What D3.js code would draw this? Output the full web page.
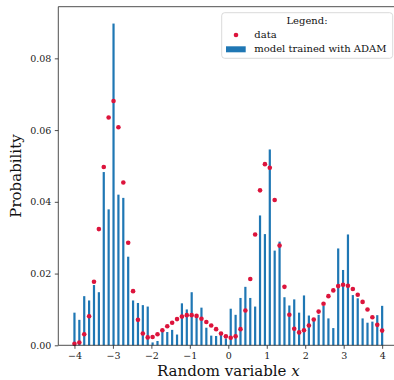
<!DOCTYPE html>
<html>
<head>
<meta charset="utf-8">
<script src="https://d3js.org/d3.v7.min.js"></script>
<style>
  html, body { margin: 0; padding: 0; background: #fff; }
  svg { display: block; font-family: "DejaVu Serif", serif; }
</style>
</head>
<body>
<svg id="chart" width="394" height="380"></svg>
<script>
// Sample grid (64 outcomes from -4 to 4)
const xValues = [
  -4.000, -3.873, -3.746, -3.619, -3.492, -3.365, -3.238, -3.111,
  -2.984, -2.857, -2.730, -2.603, -2.476, -2.349, -2.222, -2.095,
  -1.968, -1.841, -1.714, -1.587, -1.460, -1.333, -1.206, -1.079,
  -0.952, -0.825, -0.698, -0.571, -0.444, -0.317, -0.190, -0.063,
   0.063,  0.190,  0.317,  0.444,  0.571,  0.698,  0.825,  0.952,
   1.079,  1.206,  1.333,  1.460,  1.587,  1.714,  1.841,  1.968,
   2.095,  2.222,  2.349,  2.476,  2.603,  2.730,  2.857,  2.984,
   3.111,  3.238,  3.365,  3.492,  3.619,  3.746,  3.873,  4.000
];
// Target distribution (red dots)
const dataProb = [
  0.0004, 0.0008, 0.0031, 0.0081, 0.0177, 0.0324, 0.0497, 0.0635,
  0.0681, 0.0608, 0.0454, 0.0286, 0.0151, 0.0071, 0.0033, 0.0022,
  0.0023, 0.0031, 0.0042, 0.0053, 0.0063, 0.0073, 0.0080, 0.0084,
  0.0084, 0.0082, 0.0074, 0.0065, 0.0055, 0.0045, 0.0033, 0.0025,
  0.0021, 0.0025, 0.0045, 0.0097, 0.0185, 0.0309, 0.0432, 0.0505,
  0.0495, 0.0405, 0.0278, 0.0163, 0.0085, 0.0046, 0.0036, 0.0042,
  0.0055, 0.0072, 0.0094, 0.0116, 0.0137, 0.0153, 0.0165, 0.0169,
  0.0166, 0.0157, 0.0141, 0.0121, 0.0100, 0.0078, 0.0057, 0.0041
];
// Model distribution (blue bars)
const modelProb = [
  0.0091, 0.0071, 0.0137, 0.0125, 0.0168, 0.0148, 0.0483, 0.0379,
  0.0897, 0.0420, 0.0411, 0.0247, 0.0125, 0.0118, 0.0112, 0.0108,
  0.0008, 0.0012, 0.0042, 0.0037, 0.0043, 0.0030, 0.0117, 0.0100,
  0.0148, 0.0078, 0.0105, 0.0049, 0.0027, 0.0026, 0.0031, 0.0019,
  0.0102, 0.0085, 0.0132, 0.0163, 0.0132, 0.0108, 0.0362, 0.0310,
  0.0546, 0.0264, 0.0289, 0.0134, 0.0111, 0.0128, 0.0091, 0.0139,
  0.0083, 0.0068, 0.0085, 0.0110, 0.0075, 0.0048, 0.0270, 0.0210,
  0.0309, 0.0140, 0.0131, 0.0075, 0.0063, 0.0066, 0.0084, 0.0110
];
const xTicks = [-4, -3, -2, -1, 0, 1, 2, 3, 4];
const yTicks = [0.00, 0.02, 0.04, 0.06, 0.08];
const legendTitle = "Legend:";
const legendLabels = ["data", "model trained with ADAM"];

const svg = d3.select("#chart");
const mLeft = 58.3, mRight = 398.3, mTop = 6.7, mBottom = 345.3;

const x = d3.scaleLinear().domain([-4.42, 4.42]).range([mLeft, mRight]);
const y = d3.scaleLinear().domain([0, 0.0944]).range([mBottom, mTop]);

const blue = "#1f77b4", red = "#dc143c";

// bars
svg.append("g").selectAll("rect").data(modelProb).join("rect")
  .attr("x", (d, i) => x(xValues[i]) - 1.1)
  .attr("width", 2.2)
  .attr("y", d => y(d))
  .attr("height", d => y(0) - y(d))
  .attr("fill", blue);

// dots
svg.append("g").selectAll("circle").data(dataProb).join("circle")
  .attr("cx", (d, i) => x(xValues[i]))
  .attr("cy", d => y(d))
  .attr("r", 2.3)
  .attr("fill", red);

// axes
const xAxis = d3.axisBottom(x).tickValues(xTicks).tickSize(3.5).tickPadding(3.5)
  .tickFormat(d => d < 0 ? "\u2212" + Math.abs(d) : String(d));
const yAxis = d3.axisLeft(y).tickValues(yTicks).tickSize(3.5).tickPadding(3.5)
  .tickFormat(d3.format(".2f"));

const gx = svg.append("g").attr("transform", `translate(0,${mBottom})`).call(xAxis);
const gy = svg.append("g").attr("transform", `translate(${mLeft},0)`).call(yAxis);
[gx, gy].forEach(g => {
  g.select(".domain").remove();
  g.selectAll(".tick line").attr("stroke", "#222").attr("stroke-width", 0.8);
  g.selectAll(".tick text").attr("fill", "#222").style("font-family", "DejaVu Serif")
    .style("font-size", "9.5px");
});

// spines
svg.append("path")
  .attr("d", `M${mRight},${mTop}H${mLeft}V${mBottom}H${mRight}`)
  .attr("fill", "none").attr("stroke", "#222").attr("stroke-width", 0.8);

// axis labels
svg.append("text")
  .attr("transform", `translate(17,${(mTop + mBottom) / 2}) rotate(-90)`)
  .attr("text-anchor", "middle").attr("dominant-baseline", "middle")
  .style("font-size", "15px").attr("fill", "#111")
  .text("Probability");

const xl = svg.append("text")
  .attr("x", x(0)).attr("y", 376)
  .attr("text-anchor", "middle")
  .style("font-size", "15px").attr("fill", "#111");
xl.append("tspan").text("Random variable ");
xl.append("tspan").style("font-style", "italic").text("x");

// legend
const lg = svg.append("g");
lg.append("rect").attr("x", 221.7).attr("y", 12.7).attr("width", 171).attr("height", 45.6)
  .attr("rx", 3).attr("fill", "#fff").attr("fill-opacity", 0.8)
  .attr("stroke", "#d0d0d0").attr("stroke-width", 0.8);
lg.append("text").attr("x", 307).attr("y", 21).attr("text-anchor", "middle")
  .attr("dominant-baseline", "middle").style("font-size", "10px").attr("fill", "#111")
  .text(legendTitle);
lg.append("circle").attr("cx", 236).attr("cy", 35).attr("r", 2.3).attr("fill", red);
lg.append("rect").attr("x", 226).attr("y", 46.3).attr("width", 19.7).attr("height", 6).attr("fill", blue);
lg.selectAll("text.lab").data(legendLabels).join("text").attr("class", "lab")
  .attr("x", 254.3).attr("y", (d, i) => 35 + i * 14.3)
  .attr("dominant-baseline", "middle").style("font-size", "10px").attr("fill", "#111")
  .text(d => d);
</script>
</body>
</html>
